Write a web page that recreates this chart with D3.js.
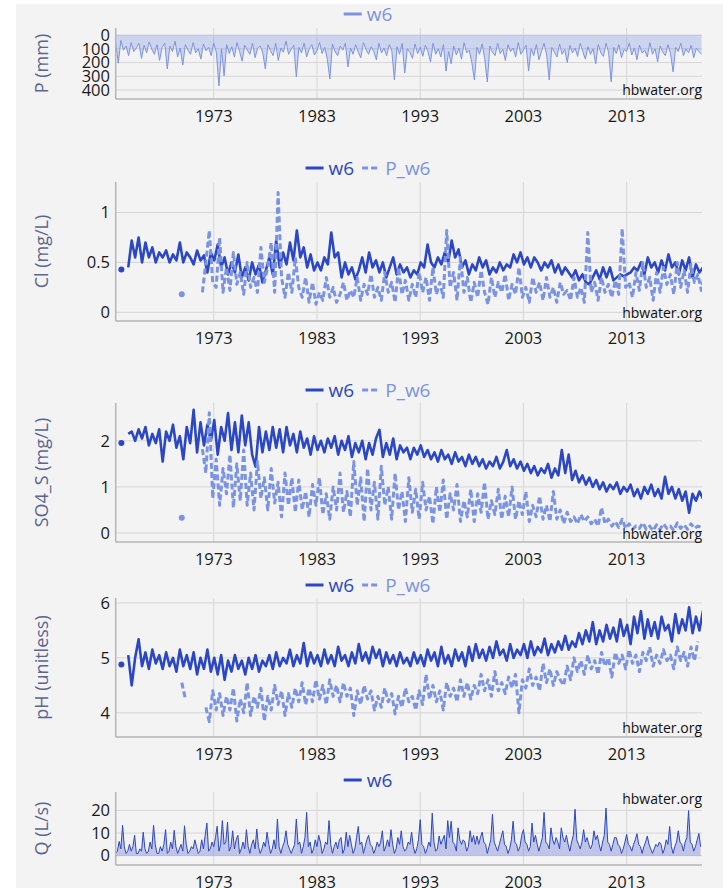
<!DOCTYPE html>
<html>
<head>
<meta charset="utf-8">
<script src="https://cdn.jsdelivr.net/npm/d3@7"></script>
<style>
  body { margin: 0; background: #fff; }
  svg { display: block; font-family: "Open Sans", sans-serif; }
</style>
</head>
<body>
<svg id="chart" width="723" height="888"></svg>
<script>
// x axis ticks (decimal years)
const tickYears = [1973, 1983, 1993, 2003, 2013];

// monthly precipitation, mm (quarterly samples from 1963.5)
const precipStart = 1963.5, precipStep = 0.25;
const precipMm = [
  60, 205, 40, 110, 80, 150, 55, 120, 95, 60, 170, 75, 130, 50, 105, 140, 70, 185, 90, 60,
  247, 80, 120, 45, 160, 95, 218, 70, 110, 140, 55, 130, 100, 175, 65, 115, 90, 150, 60, 125,
  370, 100, 298, 70, 135, 85, 160, 55, 120, 190, 75, 110, 140, 60, 165, 95, 80, 130, 247, 70,
  115, 150, 60, 185, 95, 125, 45, 140, 105, 75, 305, 90, 130, 60, 160, 100, 70, 145, 115, 55,
  135, 90, 175, 320, 65, 120, 150, 80, 110, 60, 232, 95, 140, 70, 125, 165, 55, 105, 140, 85,
  120, 180, 60, 130, 95, 150, 70, 115, 327, 85, 140, 60, 276, 100, 125, 170, 65, 135, 90, 155,
  75, 120, 195, 60, 140, 100, 160, 70, 262, 120, 210, 80, 145, 95, 175, 55, 130, 110, 200, 327,
  90, 140, 65, 170, 342, 80, 125, 150, 60, 135, 105, 185, 70, 120, 95, 160, 55, 140, 110, 75,
  262, 100, 150, 70, 180, 120, 60, 145, 327, 90, 125, 160, 65, 140, 105, 200, 75, 130, 95, 155,
  60, 120, 175, 85, 140, 100, 210, 70, 130, 155, 60, 125, 340, 90, 135, 70, 165, 105, 120, 60,
  145, 95, 180, 75, 130, 110, 160, 55, 140, 100, 195, 80, 125, 150, 70, 135, 268, 90, 120, 60,
  150, 100, 130, 75, 165, 95, 120, 140
];

// chemistry series, three samples a year
const chemStep = 1 / 3;
const w6Start = 1964.05;
const pw6Start = 1969.9;

const clW6 = [
  0.43, null, 0.45, 0.72, 0.55, 0.75, 0.5, 0.7, 0.55, 0.65, 0.5, 0.6, 0.55, 0.62, 0.5,
  0.58, 0.52, 0.7, 0.5, 0.6, 0.55, 0.48, 0.62, 0.52, 0.57, 0.4, 0.6, 0.52, 0.68, 0.45,
  0.55, 0.38, 0.5, 0.4, 0.58, 0.35, 0.45, 0.32, 0.5, 0.38, 0.48, 0.3, 0.42, 0.55, 0.38,
  0.72, 0.45, 0.6, 0.48, 0.7, 0.52, 0.82, 0.55, 0.65, 0.45, 0.58, 0.42, 0.5, 0.42, 0.55,
  0.48, 0.8, 0.55, 0.6, 0.35, 0.5, 0.38, 0.45, 0.33, 0.42, 0.55, 0.4, 0.6, 0.45, 0.52,
  0.4, 0.5, 0.35, 0.45, 0.55, 0.38, 0.48, 0.4, 0.45, 0.35, 0.42, 0.38, 0.5, 0.45, 0.68,
  0.5, 0.45, 0.55, 0.48, 0.6, 0.5, 0.72, 0.55, 0.63, 0.45, 0.52, 0.38, 0.48, 0.42, 0.55,
  0.45, 0.52, 0.38, 0.45, 0.4, 0.5, 0.42, 0.48, 0.45, 0.58, 0.5, 0.6, 0.48, 0.55, 0.45,
  0.55, 0.5, 0.42, 0.5, 0.45, 0.52, 0.4, 0.48, 0.38, 0.45, 0.4, 0.35, 0.42, 0.32, 0.38,
  0.3, 0.28, 0.35, 0.42, 0.33, 0.45, 0.35, 0.45, 0.32, 0.35, 0.38, 0.36, 0.38, 0.4, 0.45,
  0.42, 0.5, 0.38, 0.55, 0.45, 0.5, 0.4, 0.52, 0.42, 0.58, 0.45, 0.5, 0.38, 0.52, 0.42,
  0.55, 0.35, 0.48, 0.4, 0.45, 0.35
];
const clPw6 = [
  0.18, null, null, null, null, null, 0.2,
  0.5, 0.82, 0.3, 0.25, 0.75, 0.2, 0.45, 0.22, 0.6, 0.28, 0.4, 0.18, 0.5, 0.25, 0.35,
  0.2, 0.65, 0.3, 0.45, 0.7, 0.2, 1.2, 0.35, 0.15, 0.4, 0.2, 0.55, 0.25, 0.15, 0.35,
  0.1, 0.3, 0.08, 0.2, 0.12, 0.35, 0.15, 0.25, 0.1, 0.18, 0.3, 0.12, 0.22, 0.15, 0.35,
  0.12, 0.28, 0.18, 0.38, 0.15, 0.25, 0.12, 0.4, 0.2, 0.3, 0.1, 0.45, 0.18, 0.32, 0.12,
  0.28, 0.15, 0.4, 0.2, 0.35, 0.12, 0.45, 0.18, 0.3, 0.15, 0.82, 0.25, 0.4, 0.12, 0.55,
  0.2, 0.35, 0.1, 0.3, 0.15, 0.42, 0.2, 0.08, 0.35, 0.15, 0.3, 0.2, 0.38, 0.12, 0.28,
  0.18, 0.45, 0.15, 0.25, 0.1, 0.35, 0.2, 0.3, 0.12, 0.35, 0.15, 0.25, 0.1, 0.3, 0.18,
  0.22, 0.12, 0.35, 0.15, 0.25, 0.1, 0.8, 0.2, 0.3, 0.12, 0.35, 0.2, 0.28, 0.15, 0.32,
  0.18, 0.84, 0.25, 0.3, 0.15, 0.4, 0.22, 0.5, 0.25, 0.35, 0.12, 0.4, 0.2, 0.45, 0.28,
  0.38, 0.18, 0.5, 0.25, 0.42, 0.2, 0.48, 0.3, 0.38, 0.22, 0.4
];

const so4W6 = [
  1.95, null, 2.15, 2.2, 2.0, 2.25, 2.05, 2.3, 1.9, 2.15, 1.95, 2.25, 1.55, 2.2, 2.0,
  2.35, 1.85, 2.1, 1.6, 2.3, 1.95, 2.67, 1.75, 2.4, 1.9, 2.35, 2.0, 2.45, 1.7, 2.3,
  2.0, 2.6, 1.8, 2.4, 1.75, 2.55, 1.9, 2.4, 1.7, 1.44, 2.3, 1.75, 2.2, 1.8, 2.3,
  1.85, 2.25, 1.75, 2.3, 1.9, 2.15, 1.75, 2.2, 1.85, 2.05, 1.7, 2.1, 1.8, 2.0, 1.75,
  2.05, 1.85, 2.1, 1.7, 2.0, 1.8, 2.1, 1.65, 1.95, 1.75, 2.0, 1.6, 1.95, 1.7, 2.05,
  2.24, 1.65, 1.95, 1.7, 2.05, 1.6, 1.9, 1.75, 1.85, 1.6, 1.85, 1.7, 1.9, 1.65, 1.8,
  1.6, 1.75, 1.55, 1.8, 1.6, 1.7, 1.5, 1.75, 1.55, 1.65, 1.45, 1.7, 1.5, 1.65, 1.45,
  1.6, 1.4, 1.55, 1.45, 1.65, 1.4, 1.55, 1.8, 1.45, 1.6, 1.4, 1.55, 1.35, 1.5, 1.3,
  1.45, 1.25, 1.4, 1.3, 1.5, 1.2, 1.4, 1.25, 1.8, 1.3, 1.7, 1.15, 1.35, 1.1, 1.25,
  1.05, 1.2, 1.0, 1.15, 0.95, 1.1, 0.9, 1.05, 0.95, 1.1, 0.85, 1.0, 0.9, 1.05, 0.8,
  0.95, 0.75, 1.0, 0.85, 1.05, 0.8, 0.95, 0.75, 1.22, 0.85, 1.0, 0.75, 0.95, 0.7, 0.9,
  0.44, 0.85, 0.7, 0.9, 0.75, 0.72
];
const so4Pw6 = [
  0.33, null, null, null, null, null, 1.82,
  1.3, 2.61, 0.75, 1.6, 0.6, 1.4, 0.85, 1.7, 0.55, 1.5, 0.7, 1.8, 0.6, 1.3, 0.5,
  1.55, 0.75, 1.2, 0.5, 1.4, 0.65, 1.1, 0.35, 1.3, 0.6, 1.2, 0.45, 1.15, 0.5, 0.9,
  0.35, 1.05, 0.6, 1.2, 0.4, 0.85, 0.3, 1.0, 0.5, 1.3, 0.45, 0.9, 0.35, 1.55, 0.6,
  1.2, 0.25, 1.4, 0.5, 1.1, 0.3, 1.45, 0.6, 1.0, 0.3, 1.3, 0.5, 0.9, 0.25, 1.2,
  0.45, 0.95, 0.3, 1.1, 0.5, 0.8, 0.2, 1.0, 0.45, 1.15, 0.3, 0.85, 0.5, 1.05, 0.25,
  0.7, 0.35, 0.95, 0.25, 0.85, 0.45, 1.1, 0.3, 0.7, 0.4, 0.95, 0.3, 0.8, 0.35, 1.0,
  0.3, 0.7, 0.4, 0.9, 0.25, 0.6, 0.35, 0.8, 0.3, 0.6, 0.25, 0.9, 0.3, 0.5, 0.2,
  0.45, 0.25, 0.35, 0.2, 0.4, 0.25, 0.35, 0.2, 0.3, 0.15, 0.55, 0.2, 0.3, 0.15, 0.25,
  0.12, 0.3, 0.1, 0.2, 0.08, 0.15, 0.1, 0.22, 0.08, 0.15, 0.05, 0.18, 0.08, 0.2, 0.1,
  0.15, 0.05, 0.22, 0.1, 0.18, 0.08, 0.2, 0.1, 0.15, 0.12, 0.1
];

const phW6 = [
  4.88, null, 5.05, 4.5, 5.0, 5.34, 4.85, 5.1, 4.8, 5.15, 4.9, 5.05, 4.8, 5.1, 4.85,
  5.0, 4.75, 5.15, 4.85, 5.05, 4.8, 5.1, 4.7, 5.0, 4.8, 5.15, 4.75, 5.0, 4.7, 5.05,
  4.6, 4.95, 4.75, 5.05, 4.8, 4.95, 4.7, 5.0, 4.8, 5.05, 4.75, 4.95, 4.85, 5.05, 4.8,
  5.1, 4.85, 5.0, 4.9, 5.15, 4.85, 5.05, 4.9, 5.27, 4.85, 5.1, 4.9, 5.05, 4.85, 5.15,
  4.9, 5.05, 4.85, 5.2, 4.95, 5.05, 4.85, 5.1, 4.9, 5.25, 4.95, 5.1, 4.9, 5.2, 5.0,
  5.15, 4.85, 5.1, 4.9, 5.05, 4.85, 5.1, 4.9, 5.0, 4.85, 5.1, 4.9, 5.05, 4.85, 5.15,
  4.95, 5.1, 4.85, 5.2, 4.9, 5.05, 4.85, 5.15, 4.95, 5.1, 4.85, 5.2, 4.95, 5.25, 5.0,
  5.15, 4.95, 5.2, 5.0, 5.3, 5.05, 5.15, 4.95, 5.25, 5.0, 5.15, 5.05, 5.25, 5.0, 5.3,
  5.05, 5.2, 5.1, 5.35, 5.05, 5.25, 5.1, 5.3, 5.15, 5.4, 5.15, 5.3, 5.2, 5.45, 5.25,
  5.5, 5.3, 5.65, 5.25, 5.5, 5.3, 5.6, 5.35, 5.55, 5.3, 5.7, 5.4, 5.6, 5.25, 5.75,
  5.45, 5.85, 5.35, 5.7, 5.4, 5.65, 5.35, 5.75, 5.5, 5.6, 5.3, 5.8, 5.45, 5.7, 5.5,
  5.92, 5.45, 5.75, 5.5, 5.85, 5.6
];
const phPw6 = [
  4.55, 4.27, null, null, null, null, null,
  4.1, 3.84, 4.4, 4.05, 4.35, 3.95, 4.3, 4.05, 4.45, 3.85, 4.25, 4.0, 4.55, 3.95, 4.3,
  4.1, 4.45, 3.85, 4.3, 4.05, 4.5, 4.15, 4.4, 3.95, 4.35, 4.1, 4.45, 4.2, 4.55, 4.15,
  4.45, 4.2, 4.6, 4.25, 4.5, 4.15, 4.6, 4.3, 4.5, 4.2, 4.55, 4.3, 4.45, 3.95, 4.4,
  4.15, 4.5, 4.25, 4.4, 4.05, 4.3, 4.1, 4.45, 4.2, 4.35, 3.98, 4.3, 4.1, 4.45, 4.2,
  4.3, 4.05, 4.4, 4.15, 4.7, 4.25, 4.5, 4.2, 4.4, 4.05, 4.55, 4.3, 4.45, 4.2, 4.6,
  4.3, 4.55, 4.25, 4.5, 4.35, 4.7, 4.4, 4.6, 4.3, 4.75, 4.4, 4.55, 4.35, 4.65, 4.45,
  4.7, 4.0, 4.6, 4.45, 4.8, 4.5, 4.65, 4.4, 4.9, 4.55, 4.8, 4.5, 4.75, 4.6, 4.5,
  4.85, 4.6, 5.0, 4.75, 4.95, 4.7, 5.05, 4.8, 4.95, 4.7, 5.1, 4.85, 5.0, 4.65, 5.1,
  4.9, 5.05, 4.8, 5.15, 4.9, 5.05, 4.75, 5.1, 4.95, 5.2, 4.85, 5.05, 4.9, 5.15, 4.95,
  5.05, 4.8, 5.2, 4.95, 5.1, 4.85, 5.2, 4.95, 5.3
];

// streamflow, L/s (six samples a year from 1963.5)
const qStart = 1963.5, qStep = 1 / 6;
const qLs = [
  1, 2, 6.3,
  3, 13.4, 4, 1, 2, 5,   2, 4, 9, 1, 1, 3,   2, 10.4, 3, 1, 2, 6,   3, 13.4, 5, 1, 1, 4,
  2, 5, 11.5, 1, 2, 6,   3, 11.2, 4, 1, 3, 5,   2, 13.2, 5, 1, 2, 4,   3, 7, 4, 1, 2, 7,
  3, 9, 14.4, 2, 3, 6,   4, 8, 13, 2, 5, 15.5,   5, 6, 14.8, 2, 4, 11,   3, 7, 9, 1, 3, 6,
  3, 11.5, 4, 1, 5, 7,   3, 11.8, 4, 1, 3, 6,   4, 10.4, 5, 1, 3, 7,   3, 16.2, 4, 1, 4, 6,
  11, 5, 3, 1, 3, 5,   16.2, 5, 6, 1, 4, 8,   19.1, 4, 6, 1, 3, 7,   4, 9, 6, 1, 3, 6,
  5, 15.5, 5, 1, 4, 6,   3, 7, 8, 1, 3, 10.4,   4, 9, 5, 1, 3, 8,   12.9, 5, 6, 1, 4, 7,
  9, 5, 4, 1, 3, 6,   4, 6, 11, 2, 4, 7,   4, 11.5, 5, 1, 3, 8,   5, 11, 4, 2, 3, 6,
  5, 10.4, 4, 1, 3, 7,   15.9, 5, 4, 1, 3, 6,   4, 18.8, 6, 2, 3, 8.7,   5, 7, 9, 3, 15.5, 8,
  15.2, 6, 5, 2, 12.3, 7,   5, 7, 6, 2, 4, 11,   6, 9, 5, 8.7, 5, 8,   10.4, 6, 5, 1, 4, 7,
  18.3, 6, 4, 2, 5, 8,   11, 5, 4, 1, 3, 7,   15.2, 6, 5, 2, 4, 9,   11.5, 6, 5, 2, 4, 14.4,
  6, 9, 5, 2, 5, 8,   19.1, 6, 5, 3, 12.3, 7,   5, 8, 6, 3, 12.3, 8,   6, 9, 5, 2, 6, 9,
  20.5, 7, 5, 3, 6, 11.5,   6, 8, 5, 3, 5, 11,   7, 9, 5, 2, 6, 9,   21, 6, 5, 2, 5, 8,
  7.9, 5, 4, 1, 3, 6,   9.4, 5, 4, 2, 5, 7,   9.7, 5, 4, 1, 4, 6,   8.7, 5, 3, 1, 3, 5,
  4, 6, 5, 1, 3, 7,   5, 12.9, 4, 1, 4, 6,   11, 6, 5, 2, 6, 8,   19.9, 6, 5, 2, 4, 7,
  9.8, 4
];

const dark = "#2b47c3";
const light = "#7b93e3";
const font = "'Open Sans', sans-serif";

const toPoints = (values, start, step) =>
  values.map((v, i) => ({ t: start + i * step, v }));

const panels = [
  { title: "P (mm)", top: 28, bottom: 99, yBottom: 465, yTop: -51,
    yTicks: [0, 100, 200, 300, 400], legendY: 14, noteY: 90,
    series: [{ name: "w6", color: light, pts: toPoints(precipMm, precipStart, precipStep),
               area: "rgba(123,147,227,0.32)", width: 1 }] },
  { title: "Cl (mg/L)", top: 182, bottom: 321, yBottom: -0.087, yTop: 1.306,
    yTicks: [0, 0.5, 1], legendY: 168, noteY: 313,
    series: [
      { name: "w6", color: dark, pts: toPoints(clW6, w6Start, chemStep), width: 2.6 },
      { name: "P_w6", color: light, pts: toPoints(clPw6, pw6Start, chemStep), width: 3, dash: "6,3" }
    ] },
  { title: "SO4_S (mg/L)", top: 403, bottom: 542, yBottom: -0.195, yTop: 2.82,
    yTicks: [0, 1, 2], legendY: 390, noteY: 534,
    series: [
      { name: "w6", color: dark, pts: toPoints(so4W6, w6Start, chemStep), width: 2.6 },
      { name: "P_w6", color: light, pts: toPoints(so4Pw6, pw6Start, chemStep), width: 3, dash: "6,3" }
    ] },
  { title: "pH (unitless)", top: 598, bottom: 737, yBottom: 3.56, yTop: 6.09,
    yTicks: [4, 5, 6], legendY: 585, noteY: 728,
    series: [
      { name: "w6", color: dark, pts: toPoints(phW6, w6Start, chemStep), width: 2.6 },
      { name: "P_w6", color: light, pts: toPoints(phPw6, pw6Start, chemStep), width: 3, dash: "6,3" }
    ] },
  { title: "Q (L/s)", top: 792, bottom: 865, yBottom: -4.1, yTop: 28.1,
    yTicks: [0, 10, 20], legendY: 780, noteY: 799,
    series: [{ name: "w6", color: dark, pts: toPoints(qLs, qStart, qStep),
               area: "rgba(60,80,200,0.28)", width: 1 }] }
];

const svg = d3.select("#chart");
svg.append("rect").attr("x", 16).attr("y", 4).attr("width", 707).attr("height", 884)
  .attr("fill", "#f3f3f3");

const x = d3.scaleLinear().domain([1963.5, 2020.3]).range([115.7, 702]);

panels.forEach((p, pi) => {
  const y = d3.scaleLinear().domain([p.yBottom, p.yTop]).range([p.bottom, p.top]);
  const g = svg.append("g");

  // grid
  g.selectAll(".hg").data(p.yTicks).enter().append("line")
    .attr("x1", x.range()[0]).attr("x2", x.range()[1])
    .attr("y1", d => y(d)).attr("y2", d => y(d))
    .attr("stroke", "#d6d6d6").attr("stroke-width", 1);
  g.selectAll(".vg").data(tickYears).enter().append("line")
    .attr("x1", d => x(d)).attr("x2", d => x(d))
    .attr("y1", p.top).attr("y2", p.bottom)
    .attr("stroke", "#d6d6d6").attr("stroke-width", 1);

  // clip
  const clipId = "clip" + pi;
  svg.append("clipPath").attr("id", clipId).append("rect")
    .attr("x", x.range()[0]).attr("y", p.top)
    .attr("width", x.range()[1] - x.range()[0]).attr("height", p.bottom - p.top);
  const plot = g.append("g").attr("clip-path", `url(#${clipId})`);

  p.series.forEach(s => {
    if (s.area) {
      plot.append("path").datum(s.pts)
        .attr("fill", s.area)
        .attr("d", d3.area().defined(d => d.v != null)
          .x(d => x(d.t)).y0(y(0)).y1(d => y(d.v)));
    }
    plot.append("path").datum(s.pts)
      .attr("fill", "none").attr("stroke", s.color)
      .attr("stroke-width", s.width)
      .attr("stroke-linejoin", "round")
      .attr("stroke-dasharray", s.dash || null)
      .attr("d", d3.line().defined(d => d.v != null).x(d => x(d.t)).y(d => y(d.v)));
    // isolated points shown as markers
    const lone = s.pts.filter((d, i) => d.v != null &&
      (i === 0 || s.pts[i - 1].v == null) &&
      (i === s.pts.length - 1 || s.pts[i + 1].v == null));
    plot.selectAll(null).data(lone).enter().append("circle")
      .attr("cx", d => x(d.t)).attr("cy", d => y(d.v)).attr("r", 3)
      .attr("fill", s.color);
  });

  // axis lines
  g.append("line").attr("x1", x.range()[0]).attr("x2", x.range()[0])
    .attr("y1", p.top).attr("y2", p.bottom).attr("stroke", "#b5b5b5").attr("stroke-width", 1.5);
  g.append("line").attr("x1", x.range()[0]).attr("x2", x.range()[1])
    .attr("y1", p.bottom).attr("y2", p.bottom).attr("stroke", "#b5b5b5").attr("stroke-width", 1.5);

  // tick labels
  g.selectAll(".yl").data(p.yTicks).enter().append("text")
    .attr("x", 110).attr("y", d => y(d)).attr("dy", "0.35em")
    .attr("text-anchor", "end").attr("font-size", 16.5).attr("fill", "#1a1a1a")
    .attr("font-family", font).text(d => d);
  g.selectAll(".xl").data(tickYears).enter().append("text")
    .attr("x", d => x(d)).attr("y", p.bottom + 17).attr("dy", "0.35em")
    .attr("text-anchor", "middle").attr("font-size", 16.5).attr("fill", "#1a1a1a")
    .attr("font-family", font).text(d3.format("d"));

  // axis title
  g.append("text")
    .attr("transform", `translate(42,${(p.top + p.bottom) / 2}) rotate(-90)`)
    .attr("dy", "0.35em").attr("text-anchor", "middle")
    .attr("font-size", 18).attr("fill", "#5a6690").attr("font-family", font)
    .text(p.title);

  // watermark
  g.append("text").attr("x", 702).attr("y", p.noteY).attr("dy", "0.35em")
    .attr("text-anchor", "end").attr("font-size", 14).attr("fill", "#111")
    .attr("font-family", font).text("hbwater.org");

  // legend
  const leg = svg.append("g");
  let cx = 0;
  p.series.forEach(s => {
    const item = leg.append("g").attr("transform", `translate(${cx},0)`);
    item.append("line").attr("x1", 0).attr("x2", 18).attr("y1", 0).attr("y2", 0)
      .attr("stroke", s.color).attr("stroke-width", 3)
      .attr("stroke-dasharray", s.dash || null);
    const t = item.append("text").attr("x", 23).attr("dy", "0.35em")
      .attr("font-size", 19).attr("fill", s.color).attr("font-family", font).text(s.name);
    cx += 23 + t.node().getComputedTextLength() + 8;
  });
  const legW = cx - 8;
  leg.attr("transform", `translate(${368 - legW / 2},${p.legendY})`);
});
</script>
</body>
</html>
